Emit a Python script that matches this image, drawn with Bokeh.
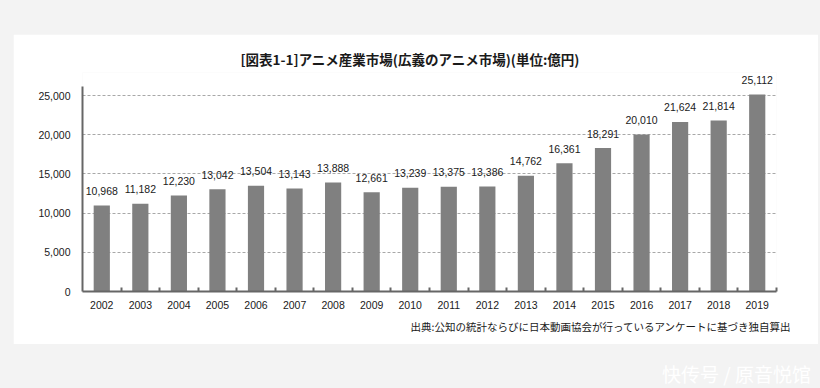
from bokeh.plotting import figure
from bokeh.models import Range1d, FixedTicker, Title, Div, NumeralTickFormatter, ColumnDataSource
from bokeh.layouts import column
from bokeh.embed import file_html
from bokeh.resources import INLINE

years = list(range(2002, 2020))
values = [10968, 11182, 12230, 13042, 13504, 13143, 13888, 12661, 13239,
          13375, 13386, 14762, 16361, 18291, 20010, 21624, 21814, 25112]
y_ticks = [0, 5000, 10000, 15000, 20000, 25000]
title_text = "[図表1-1]アニメ産業市場(広義のアニメ市場)(単位:億円)"
source_text = "出典:公知の統計ならびに日本動画協会が行っているアンケートに基づき独自算出"
watermark_text = "快传号 / 原音悦馆"

labels = [f"{v:,}" for v in values]
src = ColumnDataSource(dict(x=years, top=values, label=labels))

JP = "Noto Sans CJK JP"
NUM = "Liberation Sans"
TXT = "#1a1a1a"

p = figure(width=805, height=310, output_backend="svg", toolbar_location=None,
           x_range=Range1d(years[0] - 0.5, years[-1] + 0.5),
           y_range=Range1d(0, 27934),
           min_border_left=69, min_border_right=42,
           min_border_top=38, min_border_bottom=53,
           margin=(34, 0, 0, 13))
p.outline_line_color = None
p.background_fill_color = "white"
p.border_fill_color = "white"

p.title.text = title_text
p.title.align = "left"
p.title.offset = 158
p.title.standoff = 7
p.title.text_font = JP
p.title.text_font_size = "13.5px"
p.title.text_font_style = "bold"
p.title.text_color = TXT

p.vbar(x="x", top="top", width=0.42, source=src, fill_color="#808080", line_color=None)
p.text(x="x", y="top", text="label", source=src, text_align="center",
       text_baseline="middle", y_offset=-14.5, text_font_size="10.5px",
       text_color=TXT, text_font={"value": NUM})

# axes
p.xaxis.ticker = FixedTicker(ticks=years, minor_ticks=[y + 0.5 for y in years])
p.xaxis.major_tick_in = 0
p.xaxis.major_tick_out = 0
p.xaxis.minor_tick_in = 4
p.xaxis.minor_tick_out = 0
p.xaxis.minor_tick_line_color = "#666666"
p.xaxis.minor_tick_line_width = 2
p.xaxis.axis_line_color = "#666666"
p.xaxis.axis_line_width = 2
p.xaxis.major_label_standoff = 9
p.xaxis.major_label_text_font_size = "10.5px"
p.xaxis.major_label_text_font = NUM
p.xaxis.major_label_text_color = TXT

p.yaxis.ticker = FixedTicker(ticks=y_ticks)
p.yaxis.bounds = (0, 26150)
p.yaxis.formatter = NumeralTickFormatter(format="0,0")
p.yaxis.major_tick_in = 0
p.yaxis.major_tick_out = 0
p.yaxis.minor_tick_line_color = None
p.yaxis.axis_line_color = "#666666"
p.yaxis.axis_line_width = 2
p.yaxis.major_label_standoff = 12
p.yaxis.major_label_text_font_size = "10.5px"
p.yaxis.major_label_text_font = NUM
p.yaxis.major_label_text_color = TXT

p.xgrid.grid_line_color = None
p.ygrid.ticker = FixedTicker(ticks=y_ticks[1:])
p.ygrid.grid_line_color = "#a8a8a8"
p.ygrid.grid_line_dash = "3 2"
p.ygrid.grid_line_width = 1

src_title = Title(text=source_text, align="right", offset=-15, standoff=10,
                  text_font=JP, text_font_size="10.5px", text_font_style="normal",
                  text_color=TXT)
p.add_layout(src_title, "below")

wm = Div(text=watermark_text, width=170, height=30, margin=(16, 0, 0, 662),
         styles={"color": "#ffffff", "font-family": JP, "font-size": "19px",
                 "white-space": "nowrap"})

layout = column(p, wm, width=820, height=388, spacing=0,
                styles={"background-color": "#f3f3f3"})

open("out.html", "w").write(file_html(layout, INLINE))
